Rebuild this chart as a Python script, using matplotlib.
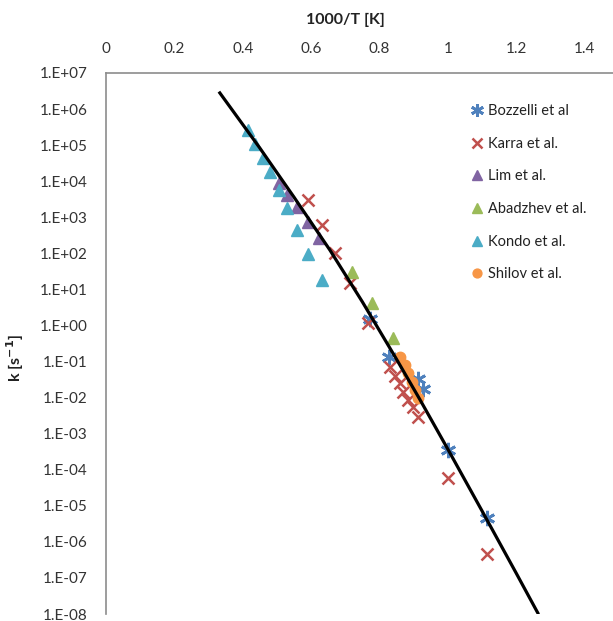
import numpy as np
import matplotlib.pyplot as plt
from matplotlib.ticker import FixedLocator, FuncFormatter, NullLocator

plt.rcParams['font.family'] = ['Lato', 'DejaVu Sans']
plt.rcParams['mathtext.default'] = 'bf'

# fitted line
fit_x = [0.333, 0.45, 0.55, 0.655, 0.75, 0.85, 0.918, 1.0, 1.1, 1.2, 1.263]
fit_k = [2.8e6, 8.3e4, 3.6e3, 1.23e2, 4.5, 1.15e-1, 8.9e-3, 3.7e-4, 7.2e-6, 1.35e-7, 1.07e-8]

# measurements
bozzelli_x = [0.772, 0.827, 0.912, 0.927, 1.000, 1.114]
bozzelli_k = [1.5, 1.3e-1, 3.3e-2, 1.7e-2, 3.5e-4, 4.6e-6]

karra_x = [0.591, 0.632, 0.670, 0.713, 0.766, 0.830, 0.845, 0.860, 0.868, 0.883,
           0.898, 0.912, 1.000, 1.114]
karra_k = [3.0e3, 6.1e2, 1.0e2, 1.5e1, 1.2, 7.1e-2, 4.0e-2, 2.5e-2, 1.4e-2, 8.6e-3,
           5.5e-3, 2.9e-3, 5.9e-5, 4.6e-7]

lim_x = [0.506, 0.529, 0.558, 0.591, 0.623]
lim_k = [8.9e3, 4.1e3, 1.9e3, 7.4e2, 2.7e2]

abadzhev_x = [0.719, 0.778, 0.839]
abadzhev_k = [3.0e1, 4.2, 4.5e-1]

kondo_x = [0.415, 0.436, 0.459, 0.480, 0.506, 0.529, 0.558, 0.591, 0.632]
kondo_k = [2.6e5, 1.1e5, 4.4e4, 1.8e4, 5.7e3, 1.8e3, 4.4e2, 9.6e1, 1.8e1]

shilov_x = [0.860, 0.874, 0.883, 0.895, 0.904, 0.912]
shilov_k = [1.3e-1, 8.0e-2, 4.8e-2, 2.7e-2, 1.6e-2, 1.0e-2]

x_ticks = [0, 0.2, 0.4, 0.6, 0.8, 1.0, 1.2, 1.4]
x_ticklabels = ['0', '0.2', '0.4', '0.6', '0.8', '1', '1.2', '1.4']

fig = plt.figure(figsize=(6.13, 6.21), dpi=100)
ax = fig.add_axes([106 / 613, 1 - 614 / 621, (653 - 106) / 613, (614 - 73) / 621])

blue = '#4F81BD'
red = '#C0504D'
purple = '#8064A2'
green = '#9BBB59'
teal = '#4BACC6'
orange = '#F79646'

ax.plot(bozzelli_x, bozzelli_k, ls='none', marker=(6, 2, 0), ms=11, mew=2,
        color=blue, label='Bozzelli et al')
ax.plot(karra_x, karra_k, ls='none', marker='x', ms=9, mew=1.8, color=red,
        label='Karra et al.')
ax.plot(lim_x, lim_k, ls='none', marker='^', ms=8.5, color=purple, mec=purple,
        label='Lim et al.')
ax.plot(abadzhev_x, abadzhev_k, ls='none', marker='^', ms=8.5, color=green,
        mec=green, label='Abadzhev et al.')
ax.plot(kondo_x, kondo_k, ls='none', marker='^', ms=8.5, color=teal, mec=teal,
        label='Kondo et al.')
ax.plot(shilov_x, shilov_k, ls='none', marker='o', ms=7.5, color=orange,
        mec=orange, label='Shilov et al.')
ax.plot(fit_x, fit_k, color='black', lw=2.3, zorder=5)

ax.set_yscale('log')
ax.set_xlim(0, 1.6)
ax.set_ylim(1e-8, 1e7)

ax.xaxis.tick_top()
ax.xaxis.set_major_locator(FixedLocator(x_ticks))
ax.set_xticklabels(x_ticklabels)
ax.yaxis.set_major_locator(FixedLocator([10.0 ** e for e in range(-8, 8)]))
ax.yaxis.set_minor_locator(NullLocator())
ax.yaxis.set_major_formatter(FuncFormatter(lambda v, p: '1.E%+03d' % round(np.log10(v))))
ax.tick_params(axis='x', length=0, pad=12, labelsize=11, colors='#333333')
ax.tick_params(axis='y', length=0, pad=13, labelsize=11, colors='#333333')

for s in ['right', 'bottom']:
    ax.spines[s].set_visible(False)
for s in ['left', 'top']:
    ax.spines[s].set_color('#8c8c8c')
    ax.spines[s].set_linewidth(1.2)

fig.text(345 / 613, 1 - 20 / 621, '1000/T [K]', ha='center', va='center',
         fontsize=11.5, fontweight='bold', color='#222222')
fig.text(15 / 613, 1 - 358 / 621, 'k [s$^{-1}$]', ha='center', va='center',
         rotation=90, fontsize=11.5, fontweight='bold', color='#222222')

handles, labels = ax.get_legend_handles_labels()
leg = ax.legend(handles[:6], labels[:6], loc='upper left',
                bbox_to_anchor=(470 / 613, 1 - 104 / 621),
                bbox_transform=fig.transFigure, frameon=False, fontsize=10.5,
                handlelength=0.9, handletextpad=0.3, labelspacing=1.28,
                borderpad=0, borderaxespad=0, markerscale=0.85)
for t in leg.get_texts():
    t.set_color('#222222')

fig.savefig('out.png', dpi=100)
